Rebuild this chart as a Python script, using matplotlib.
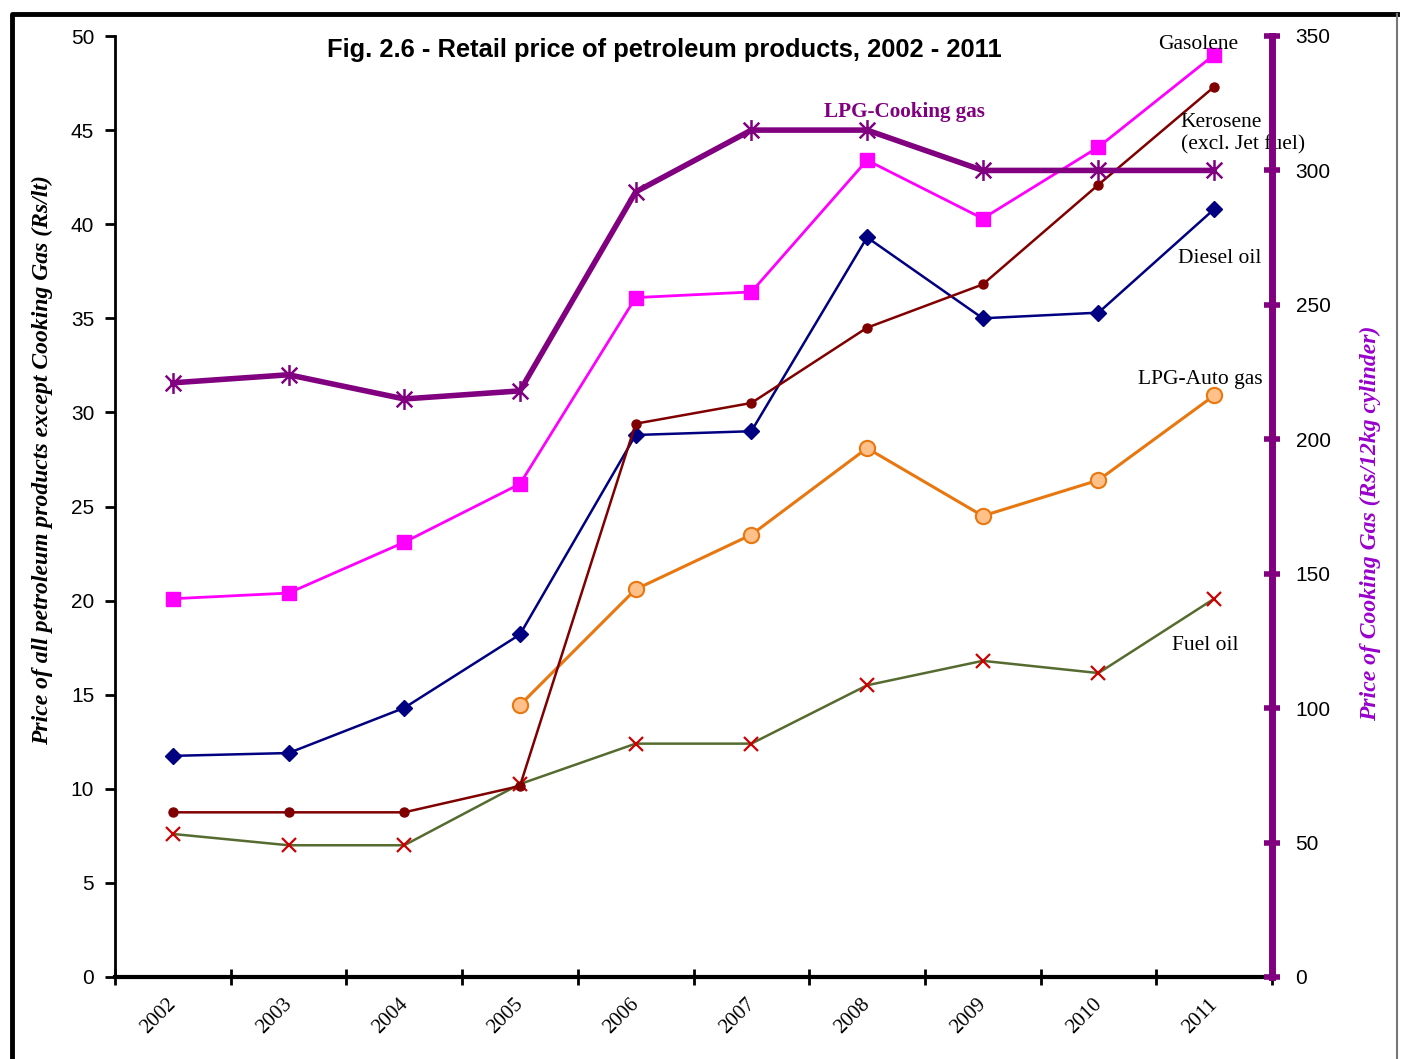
import matplotlib.pyplot as plt
from matplotlib.path import Path
from matplotlib.lines import Line2D
import matplotlib.transforms as mtransforms
import numpy as np

# Данные
years = ["2002", "2003", "2004", "2005", "2006", "2007", "2008", "2009", "2010", "2011"]
gasolene = [20.1, 20.4, 23.1, 26.2, 36.1, 36.4, 43.4, 40.3, 44.1, 49.0]
kerosene = [8.75, 8.75, 8.75, 10.15, 29.4, 30.5, 34.5, 36.8, 42.1, 47.3]
diesel = [11.75, 11.9, 14.3, 18.2, 28.8, 29.0, 39.3, 35.0, 35.3, 40.8]
lpg_auto = [None, None, None, 14.45, 20.6, 23.5, 28.1, 24.5, 26.4, 30.9]
fuel_oil = [7.6, 7.0, 7.0, 10.25, 12.4, 12.4, 15.5, 16.8, 16.15, 20.1]
lpg_cooking = [221, 224, 215, 218, 292, 315, 315, 300, 300, 300]

x = np.arange(len(years)) + 0.5
serif = "Liberation Serif"
sans = "Liberation Sans"

# Маркер "звезда" как в Excel: крест + вертикальная линия
star = Path([(0, -1), (0, 1), (-0.75, -0.75), (0.75, 0.75), (-0.75, 0.75), (0.75, -0.75)],
            [Path.MOVETO, Path.LINETO, Path.MOVETO, Path.LINETO, Path.MOVETO, Path.LINETO])

W, H = 1401, 1059
fig = plt.figure(figsize=(W / 100, H / 100), dpi=100)
ax = fig.add_axes([115/W, 1 - 977/H, (1272 - 115)/W, (977 - 36)/H])

# Рамка вокруг рисунка
fig.lines.append(Line2D([12/W, 12/W, 1397/W], [0, 1 - 14/H, 1 - 14/H],
                        transform=fig.transFigure, color="black", lw=3.5))
fig.lines.append(Line2D([1397/W, 1397/W], [0, 1 - 14/H],
                        transform=fig.transFigure, color="#777777", lw=1.5))

auto_x = [xi for xi, v in zip(x, lpg_auto) if v is not None]
auto_y = [v for v in lpg_auto if v is not None]

ax.plot(x, fuel_oil, color="#556B2F", lw=1.8, marker="x", ms=10, mec="#CC0000", mew=1.6)
ax.plot(auto_x, auto_y, color="#E8770F", lw=2.2, marker="o", ms=11, mfc="#FFC08A", mec="#E8770F", mew=1.5)
ax.plot(x, diesel, color="#000080", lw=1.8, marker="D", ms=8)
ax.plot(x, kerosene, color="#800000", lw=1.8, marker="o", ms=6.5)
ax.plot(x, gasolene, color="#FF00FF", lw=2.0, marker="s", ms=10)

ax.set_xlim(0, 10)
ax.set_ylim(0, 50)
ax.set_yticks(range(0, 51, 5))
ax.set_xticks(range(0, 11))
ax.set_xticks(x, minor=True)
ax.set_xticklabels([])
ax.set_xticklabels(years, minor=True, rotation=45, fontfamily=serif, fontsize=15)
ax.tick_params(axis="x", which="minor", length=0, pad=13)
ax.tick_params(axis="x", which="major", direction="inout", length=12, width=2)
ax.tick_params(axis="y", direction="out", length=7, width=2, labelsize=15, pad=8)
for lab in ax.get_yticklabels():
    lab.set_fontfamily(sans)
shift = mtransforms.ScaledTranslation(-14/100, 0, fig.dpi_scale_trans)
for t in ax.xaxis.get_minor_ticks():
    t.label1.set_horizontalalignment("center")
    t.label1.set_verticalalignment("top")
    t.label1.set_transform(t.label1.get_transform() + shift)

for s in ["top", "right"]:
    ax.spines[s].set_visible(False)
ax.spines["left"].set_linewidth(2)
ax.spines["bottom"].set_linewidth(3)

ax.set_ylabel("Price of all petroleum products except Cooking Gas (Rs/lt)",
              fontfamily=serif, fontstyle="italic", fontweight="bold", fontsize=17)
ax.yaxis.set_label_coords(-0.054, 0.549)

# Правая ось: сжиженный газ для кухни
ax2 = ax.twinx()
ax2.plot(x, lpg_cooking, color="#800080", lw=4, marker=star, ms=15, mec="#800080", mfc="none", mew=1.8)
ax2.set_ylim(0, 350)
ax2.set_yticks(range(0, 351, 50))
for s in ["top", "left", "bottom"]:
    ax2.spines[s].set_visible(False)
ax2.spines["right"].set_color("#800080")
ax2.spines["right"].set_linewidth(5)
ax2.tick_params(axis="y", direction="inout", length=12, width=4, color="#800080",
                labelsize=15, pad=11)
for lab in ax2.get_yticklabels():
    lab.set_fontfamily(sans)
ax2.set_ylabel("Price of Cooking Gas (Rs/12kg cylinder)", color="#9900CC",
               fontfamily=serif, fontstyle="italic", fontweight="bold", fontsize=17)
ax2.yaxis.set_label_coords(1.076, 0.482)

# Заголовок и подписи рядов
fig.text(664/W, 1 - 50/H, "Fig. 2.6 - Retail price of petroleum products, 2002 - 2011",
         ha="center", va="center", fontfamily=sans, fontweight="bold", fontsize=18.4)
ax.text(9.36, 49.55, "Gasolene", fontfamily=serif, fontsize=15.5, ha="center", va="center")
ax.text(9.21, 44.8, "Kerosene\n(excl. Jet fuel)", fontfamily=serif, fontsize=15.5,
        ha="left", va="center", linespacing=1.2)
ax.text(9.55, 38.17, "Diesel oil", fontfamily=serif, fontsize=15.5, ha="center", va="center")
ax.text(9.38, 31.75, "LPG-Auto gas", fontfamily=serif, fontsize=15.5, ha="center", va="center")
ax.text(9.42, 17.6, "Fuel oil", fontfamily=serif, fontsize=15.5, ha="center", va="center")
ax.text(6.82, 45.97, "LPG-Cooking gas", fontfamily=serif, fontsize=15.2, fontweight="bold",
        color="#800080", ha="center", va="center")

fig.savefig("out.png", dpi=100)
